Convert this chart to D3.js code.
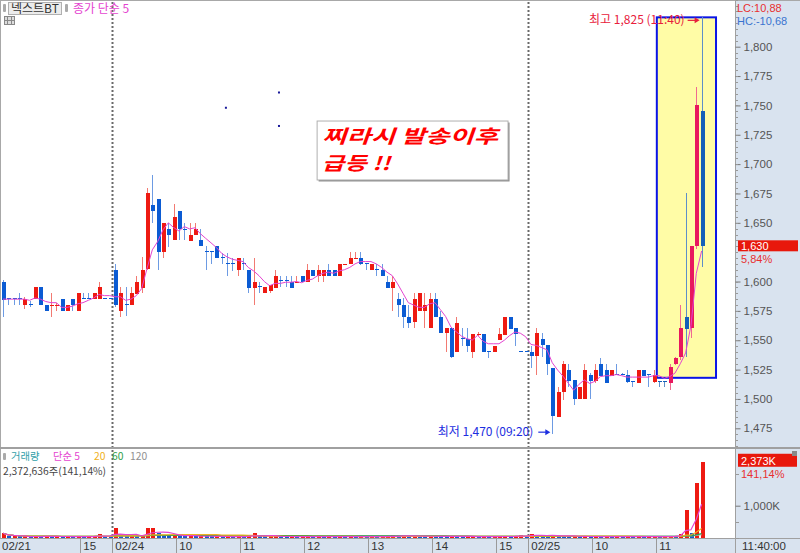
<!DOCTYPE html>
<html><head><meta charset="utf-8">
<script src="https://d3js.org/d3.v7.min.js"></script>
<style>
html,body{margin:0;padding:0;background:#fff;}
svg{display:block;}
text{font-family:"Noto Sans CJK KR","Noto Sans",sans-serif;}
text.num{font-family:"Liberation Sans","DejaVu Sans",sans-serif;}
</style></head>
<body><svg id="chart" width="800" height="553"></svg>
<script>
// ---------------- data ----------------
const sessionDays = ["02/21", "02/24", "02/25"];
const sessionStart = ["13:45", "09:00", "09:00"];
const sessionEnd = ["15:20", "15:20", "11:40"];
const sessionAuction = ["15:30", "15:30", null];

const opens = [1600,1586,1586,1586,1580,1581,1585,1595,1580,1579,1579,1585,1575,1585,1575,1586,1586,1585,1585,1586,1586,
1610,1575,1581,1580,1590,1595,1610,1665,1670,1625,1645,1635,1660,1645,1635,1640,1635,1626,1626,1630,1621,1616,1616,1610,1616,1610,1595,1596,1590,1592,
1595,1601,1601,1600,1599,1605,1600,1610,1605,1605,1610,1610,1605,1614,1615,1619,1620,1616,1610,1611,1610,1600,1595,1585,1580,1570,1565,1575,1575,1560,1585,1570,1556,1560,1540,1552,1551,1540,1554,1555,1541,1540,1550,1555,1570,1560,1541,1541,
1540,1536,1551,1546,1526,1485,1506,1525,1516,1500,1500,1520,1516,1530,1525,1520,1521,1521,1520,1515,1514,1525,1521,1514,1515,1515,1513,1530,1535,1570,1560,1630,1745];
const highs = [1601,1586,1586,1590,1587,1583,1595,1595,1580,1590,1582,1585,1580,1585,1590,1590,1590,1590,1600,1586,1586,
1615,1595,1595,1595,1605,1621,1680,1691,1670,1650,1650,1666,1660,1650,1650,1650,1645,1630,1626,1630,1624,1624,1620,1620,1620,1610,1620,1600,1595,1597,
1610,1605,1605,1605,1605,1605,1615,1610,1614,1610,1615,1610,1615,1615,1625,1625,1625,1616,1615,1615,1615,1605,1605,1590,1586,1580,1590,1590,1590,1590,1590,1575,1560,1560,1570,1560,1560,1555,1557,1555,1541,1545,1560,1570,1570,1560,1541,1541,
1545,1560,1556,1546,1526,1510,1532,1530,1516,1510,1530,1522,1530,1535,1530,1525,1530,1522,1525,1515,1525,1525,1521,1525,1515,1515,1530,1536,1580,1675,1630,1766,1825];
const lows = [1570,1580,1580,1580,1577,1578,1585,1580,1575,1570,1575,1575,1575,1575,1575,1585,1585,1585,1585,1585,1585,
1578,1570,1571,1580,1590,1590,1610,1650,1610,1620,1629,1635,1635,1635,1635,1640,1630,1610,1615,1620,1615,1605,1609,1605,1610,1590,1580,1590,1590,1590,
1595,1595,1595,1595,1599,1600,1600,1605,1600,1600,1605,1605,1605,1614,1615,1619,1614,1610,1610,1605,1605,1595,1575,1570,1560,1560,1560,1575,1560,1560,1570,1556,1540,1535,1540,1545,1540,1535,1554,1540,1535,1540,1550,1555,1560,1545,1540,1540,
1526,1520,1536,1520,1470,1485,1499,1510,1495,1500,1500,1500,1514,1520,1514,1520,1520,1520,1514,1510,1514,1520,1510,1514,1510,1510,1508,1529,1533,1536,1552,1628,1612];
const closes = [1585,1585,1585,1585,1585,1580,1595,1580,1575,1580,1580,1575,1580,1580,1590,1585,1585,1590,1595,1585,1585,
1580,1590,1580,1590,1600,1610,1675,1660,1625,1650,1640,1655,1645,1644,1640,1645,1630,1625,1625,1620,1620,1615,1615,1620,1615,1595,1600,1595,1595,1597,
1605,1600,1600,1595,1600,1600,1610,1605,1610,1610,1605,1605,1615,1615,1620,1620,1615,1615,1615,1610,1605,1595,1600,1580,1570,1565,1585,1590,1580,1585,1570,1556,1560,1535,1565,1551,1545,1555,1555,1540,1540,1545,1555,1570,1560,1555,1540,1540,
1537,1556,1546,1530,1485,1506,1530,1516,1500,1510,1525,1515,1525,1520,1514,1525,1520,1520,1514,1514,1525,1520,1520,1520,1514,1514,1527,1535,1560,1560,1630,1750,1630];
// volume in thousand shares
const volumes = [140,35,40,30,45,30,40,35,60,30,35,25,40,30,45,30,35,40,115,40,35,
290,70,45,60,55,75,290,290,140,70,45,115,60,40,50,45,55,40,35,45,30,40,30,45,30,50,140,40,35,45,
50,30,25,35,25,30,45,30,35,30,35,25,40,20,35,25,30,25,30,25,30,35,85,45,85,40,50,45,40,50,45,40,35,50,45,30,35,40,25,35,30,35,40,45,35,40,85,45,
105,95,50,45,85,60,50,40,45,35,40,30,35,30,35,25,30,25,30,25,35,25,30,30,25,35,60,50,105,865,155,1720,2373];

// 1,625 is hidden behind the last-price label in the reference
const priceTicks = [1475,1500,1525,1550,1575,1600,1650,1675,1700,1725,1750,1775,1800];
const volumeTicks = [1000];
const xTickTimes = ["02/21 13:45","02/21 15:00","02/24 09:00","02/24 10:00","02/24 11:00","02/24 12:00","02/24 13:00","02/24 14:00","02/24 15:00","02/25 09:00","02/25 10:00","02/25 11:00"];
const xTickLabels = ["02/21","15","02/24","10","11","12","13","14","15","02/25","10","11"];
const dayBreaks = ["02/24 09:00", "02/25 09:00"];
const noteDots = [{slot:42.3, price:1748}, {slot:52.25, price:1761}, {slot:52.25, price:1732.5}];
const highlightBox = {slot0:123.1, slot1:134.2, p0:1518, p1:1825};
const noteBox = {slot0:59.4, slot1:95.2, p0:1686.5, p1:1736.7};
const noteLines = ["찌라시 발송이후", "급등 !!"];
const lastPrice = 1630, lastPct = "5,84%";
const lastVolume = "2,373K", lastVolPct = "141,14%";
const volLegendItems = ["거래량", "단순 5", "20", "60", "120"];
const volInfo = "2,372,636주(141,14%)";

// ---------------- layout ----------------
const svg = d3.select("#chart");
const n = closes.length;
const step = 5.333, x0 = 0.33;
const plotR = 735, priceB = 447, volT = 448, volB = 537.7, axT = 538;

const times = [];
sessionDays.forEach((d, k) => {
  const [sh, sm] = sessionStart[k].split(":").map(Number);
  const [eh, em] = sessionEnd[k].split(":").map(Number);
  for (let m = sh * 60 + sm; m <= eh * 60 + em; m += 5)
    times.push(d + " " + String(Math.floor(m / 60)).padStart(2, "0") + ":" + String(m % 60).padStart(2, "0"));
  if (sessionAuction[k]) times.push(d + " " + sessionAuction[k]);
});
const data = times.map((t, i) => ({t, i, o: opens[i], h: highs[i], l: lows[i], c: closes[i], v: volumes[i]}));

const x = d3.scaleBand().domain(times).range([x0, x0 + n * step]);
const xs = d3.scaleLinear().domain([0, n]).range([x0, x0 + n * step]);
const cx = d => x(d.t) + x.bandwidth() / 2;
const y = d3.scaleLinear().domain([1475, 1800]).range([428.3, 46.7]);
const yv = d3.scaleLinear().domain([0, 1000]).range([volB, 505.7]);

const sma = (arr, k) => arr.map((_, i) => d3.mean(arr.slice(Math.max(0, i - k + 1), i + 1)));

// backgrounds
const axBg = "#d9e3ef";
svg.append("rect").attr("width", 800).attr("height", 553).attr("fill", "#fff");
svg.append("rect").attr("x", plotR).attr("y", 0).attr("width", 800 - plotR).attr("height", 553).attr("fill", axBg);
svg.append("rect").attr("x", 0).attr("y", axT).attr("width", 800).attr("height", 553 - axT).attr("fill", axBg);

const defs = svg.append("defs");
defs.append("clipPath").attr("id", "cp").append("rect").attr("x", 0).attr("y", 0).attr("width", plotR).attr("height", priceB);
defs.append("clipPath").attr("id", "cv").append("rect").attr("x", 0).attr("y", volT).attr("width", plotR).attr("height", volB - volT + 0.3);

// highlight box
svg.append("rect")
  .attr("x", xs(highlightBox.slot0)).attr("y", y(highlightBox.p1))
  .attr("width", xs(highlightBox.slot1) - xs(highlightBox.slot0))
  .attr("height", y(highlightBox.p0) - y(highlightBox.p1))
  .attr("fill", "#fffca6").attr("stroke", "#0a14e6").attr("stroke-width", 2);

// day dividers
svg.append("g").selectAll("line").data(dayBreaks).join("line")
  .attr("x1", d => Math.round(x(d)) + 0.5).attr("x2", d => Math.round(x(d)) + 0.5)
  .attr("y1", 2).attr("y2", axT)
  .attr("stroke", "#6a6a6a").attr("stroke-width", 2).attr("stroke-dasharray", "2,2");

// candles
const inBox = d => d.i >= 123;
const bodyCol = d => d.c >= d.o ? (inBox(d) ? "#e8185e" : "#ee1a12") : (inBox(d) ? "#1460b8" : "#0b5bd3");
const wickCol = d => d.c >= d.o ? (inBox(d) ? "#f06a90" : "#f27a72") : (inBox(d) ? "#5d8fc8" : "#6d9be3");
const gc = svg.append("g").attr("clip-path", "url(#cp)").attr("shape-rendering", "crispEdges");
gc.selectAll("line.w").data(data).join("line").attr("class", "w")
  .attr("x1", d => Math.round(cx(d)) + 0.5).attr("x2", d => Math.round(cx(d)) + 0.5)
  .attr("y1", d => y(d.h)).attr("y2", d => y(d.l))
  .attr("stroke", wickCol).attr("stroke-width", 1);
gc.selectAll("rect.b").data(data).join("rect").attr("class", "b")
  .attr("x", d => Math.round(cx(d)) - 1.5)
  .attr("width", 4)
  .attr("y", d => Math.round(y(Math.max(d.o, d.c))))
  .attr("height", d => Math.max(1, Math.round(Math.abs(y(d.o) - y(d.c)))))
  .attr("fill", bodyCol);

// MA5 on price
const ma5 = sma(closes, 5);
svg.append("path").attr("clip-path", "url(#cp)")
  .datum(data)
  .attr("d", d3.line().x(cx).y(d => y(ma5[d.i])))
  .attr("fill", "none").attr("stroke", "#e444d0").attr("stroke-width", 1);

// note dots
svg.append("g").selectAll("rect").data(noteDots).join("rect")
  .attr("x", d => xs(d.slot) - 1).attr("y", d => y(d.price) - 1)
  .attr("width", 2).attr("height", 2).attr("fill", "#1a1a9a");

// note box
const nbx = xs(noteBox.slot0), nby = y(noteBox.p1);
const nbw = xs(noteBox.slot1) - nbx, nbh = y(noteBox.p0) - nby;
svg.append("rect").attr("x", nbx + 1.5).attr("y", nby + 1.5).attr("width", nbw).attr("height", nbh).attr("fill", "#8a8a8a");
svg.append("rect").attr("x", nbx).attr("y", nby).attr("width", nbw).attr("height", nbh)
  .attr("fill", "#fff").attr("stroke", "#b0b0b0").attr("stroke-width", 1);
const noteWidths = [176, 68];
svg.append("g").selectAll("text").data(noteLines).join("text")
  .attr("x", nbx + 5).attr("y", (d, i) => nby + 22 + i * 27)
  .attr("fill", "#ff0000").attr("font-size", 18.5).attr("font-weight", "bold").attr("font-style", "italic")
  .attr("textLength", (d, i) => noteWidths[i]).attr("lengthAdjust", "spacingAndGlyphs")
  .text(d => d);

// high / low annotations
const iHigh = d3.maxIndex(highs), iLow = d3.minIndex(lows);
function arrow(g, xEnd, yy, col) {
  g.append("line").attr("x1", xEnd - 12).attr("x2", xEnd - 3).attr("y1", yy).attr("y2", yy).attr("stroke", col).attr("stroke-width", 1.2);
  g.append("path").attr("d", `M${xEnd},${yy} L${xEnd - 5},${yy - 3} L${xEnd - 5},${yy + 3} Z`).attr("fill", col);
}
const ga = svg.append("g");
const hx = cx(data[iHigh]) - 2, hy = y(highs[iHigh]) + 3;
ga.append("text").attr("x", hx - 15).attr("y", hy + 4).attr("text-anchor", "end").attr("font-size", 12).attr("fill", "#e8203c")
  .text(`최고 ${d3.format(",")(highs[iHigh])} (${data[iHigh].t.slice(6)})`);
arrow(ga, hx, hy, "#e8203c");
const lx = cx(data[iLow]) - 2, ly = y(lows[iLow]) - 2;
ga.append("text").attr("x", lx - 17).attr("y", ly + 4).attr("text-anchor", "end").attr("font-size", 12).attr("fill", "#1c2ee0")
  .text(`최저 ${d3.format(",")(lows[iLow])} (${data[iLow].t.slice(6)})`);
arrow(ga, lx, ly, "#1c2ee0");

// volume bars
const gv = svg.append("g").attr("clip-path", "url(#cv)").attr("shape-rendering", "crispEdges");
gv.selectAll("rect").data(data).join("rect")
  .attr("x", d => Math.round(cx(d)) - 1.5).attr("width", 4)
  .attr("y", d => Math.min(yv(d.v), volB - 1.5))
  .attr("height", d => Math.max(1.5, volB - yv(d.v)))
  .attr("fill", d => (d.i === 0 || d.v >= volumes[d.i - 1]) ? "#ee1a12" : "#1559cc");
const vmaDefs = [[120, "#b8b8b8"], [60, "#2f9e4a"], [20, "#f0b020"], [5, "#e444d0"]];
vmaDefs.forEach(([k, col]) => {
  const m = sma(volumes, k);
  svg.append("path").attr("clip-path", "url(#cv)").datum(data)
    .attr("d", d3.line().x(cx).y(d => Math.min(yv(m[d.i]), volB - 1)))
    .attr("fill", "none").attr("stroke", col).attr("stroke-width", 1.2);
});

// frame lines
const frame = svg.append("g").attr("shape-rendering", "crispEdges");
frame.append("line").attr("x1", 0).attr("x2", 800).attr("y1", 0.5).attr("y2", 0.5).attr("stroke", "#a8a8a8");
frame.append("line").attr("x1", 0.5).attr("x2", 0.5).attr("y1", 0).attr("y2", axT).attr("stroke", "#a8a8a8");
frame.append("line").attr("x1", 0).attr("x2", 800).attr("y1", priceB + 0.5).attr("y2", priceB + 0.5).attr("stroke", "#a0a0a0").attr("stroke-width", 2);
frame.append("line").attr("x1", 0).attr("x2", 800).attr("y1", axT + 0.5).attr("y2", axT + 0.5).attr("stroke", "#a0a0a0");
frame.append("line").attr("x1", plotR + 0.5).attr("x2", plotR + 0.5).attr("y1", 0).attr("y2", 553).attr("stroke", "#a0a0a0");

// right price axis
const ay = svg.append("g").attr("transform", `translate(${plotR + 0.5},0)`);
ay.call(d3.axisRight(y).tickValues(priceTicks).tickSize(5).tickPadding(3).tickFormat(d3.format(",")));
ay.select(".domain").remove();
ay.selectAll(".tick line").attr("stroke", "#777");
ay.selectAll(".tick text").attr("class", "num").attr("fill", "#555").attr("font-size", 11.5).attr("font-family", null);
// minor ticks
svg.append("g").attr("shape-rendering", "crispEdges").selectAll("line").data(d3.range(1460, 1841, 5)).join("line")
  .attr("x1", plotR + 1).attr("x2", plotR + 3).attr("y1", d => Math.round(y(d)) + 0.5).attr("y2", d => Math.round(y(d)) + 0.5)
  .attr("stroke", "#999");

// volume axis
const av = svg.append("g").attr("transform", `translate(${plotR + 0.5},0)`);
av.call(d3.axisRight(yv).tickValues(volumeTicks).tickSize(5).tickPadding(3).tickFormat(d => d3.format(",")(d) + "K"));
av.select(".domain").remove();
av.selectAll(".tick line").attr("stroke", "#777");
av.selectAll(".tick text").attr("class", "num").attr("fill", "#555").attr("font-size", 11.5).attr("font-family", null);
svg.append("g").selectAll("line").data([0, 500, 2000]).join("line")
  .attr("x1", plotR + 1).attr("x2", plotR + 4).attr("y1", d => Math.round(yv(d)) + 0.5).attr("y2", d => Math.round(yv(d)) + 0.5)
  .attr("stroke", "#999");

// last price label
const lpY = y(lastPrice);
svg.append("rect").attr("x", plotR + 3).attr("y", lpY - 6).attr("width", 60).attr("height", 11).attr("fill", "#e8180c");
svg.append("text").attr("class", "num").attr("x", plotR + 6).attr("y", lpY + 4).attr("font-size", 11).attr("fill", "#fff").text(d3.format(",")(lastPrice));
svg.append("text").attr("class", "num").attr("x", plotR + 6).attr("y", lpY + 16.8).attr("font-size", 11).attr("fill", "#e83030").text(lastPct);

// last volume label
const lvY = yv(volumes[n - 1]);
svg.append("rect").attr("x", plotR + 3).attr("y", lvY - 8).attr("width", 59).attr("height", 13).attr("fill", "#e8180c");
svg.append("text").attr("class", "num").attr("x", plotR + 6).attr("y", lvY + 3).attr("font-size", 11).attr("fill", "#fff").text(lastVolume);
svg.append("text").attr("class", "num").attr("x", plotR + 6).attr("y", lvY + 15.8).attr("font-size", 11).attr("fill", "#e83030").text(lastVolPct);
svg.append("rect").attr("x", 792).attr("y", 451).attr("width", 5).attr("height", 5).attr("fill", "#888");

// LC / HC
svg.append("text").attr("class", "num").attr("x", plotR + 2).attr("y", 12).attr("font-size", 11).attr("fill", "#e83030").text("LC:10,88");
svg.append("text").attr("class", "num").attr("x", plotR + 2).attr("y", 24.8).attr("font-size", 11).attr("fill", "#3a74d0").text("HC:-10,68");

// bottom time axis
const gx = svg.append("g");
gx.selectAll("line").data(xTickTimes.slice(1)).join("line")
  .attr("x1", d => Math.round(x(d)) + 0.5).attr("x2", d => Math.round(x(d)) + 0.5)
  .attr("y1", axT).attr("y2", 553).attr("stroke", "#9a9a9a").attr("shape-rendering", "crispEdges");
gx.selectAll("text").data(xTickTimes).join("text").attr("class", "num")
  .attr("x", (d, i) => i === 0 ? 2 : x(d) + 3).attr("y", 550)
  .attr("font-size", 11.5).attr("fill", "#333")
  .text((d, i) => xTickLabels[i]);
svg.append("text").attr("class", "num").attr("x", plotR + 7).attr("y", 550).attr("font-size", 11.5).attr("fill", "#333").text(times[n - 1].slice(6) + ":00");

// legends
const lg = svg.append("g");
lg.append("rect").attr("x", 3).attr("y", 4).attr("width", 3).attr("height", 8).attr("rx", 1).attr("fill", "#aaa");
lg.append("rect").attr("x", 8.5).attr("y", 2.5).attr("width", 53).attr("height", 12).attr("fill", "#ececec").attr("stroke", "#b0b0b0");
lg.append("text").attr("x", 11).attr("y", 12.5).attr("font-size", 12).attr("fill", "#333").text("넥스트BT");
lg.append("rect").attr("x", 65).attr("y", 4).attr("width", 3).attr("height", 8).attr("rx", 1).attr("fill", "#aaa");
lg.append("text").attr("x", 73).attr("y", 13).attr("font-size", 12).attr("fill", "#e444d0").text("종가 단순 5");
lg.append("rect").attr("x", 4.5).attr("y", 16.5).attr("width", 10).attr("height", 8).attr("fill", "#ddd").attr("stroke", "#888");
lg.append("path").attr("d", "M7.5,17 V24 M11.5,17 V24 M5,20.5 H14").attr("stroke", "#888");

const vl = svg.append("g");
vl.append("rect").attr("x", 3).attr("y", 453).attr("width", 3).attr("height", 7).attr("rx", 1).attr("fill", "#aaa");
const volLegendCols = ["#30a0a8", "#e444d0", "#f0b020", "#2f9e4a", "#909090"];
const volLegendX = [11, 53, 94, 112, 130];
vl.selectAll("text.it").data(volLegendItems).join("text").attr("class", "it")
  .attr("x", (d, i) => volLegendX[i]).attr("y", 460.2).attr("font-size", 10.3)
  .attr("fill", (d, i) => volLegendCols[i]).text(d => d);
vl.append("text").attr("x", 3).attr("y", 475.4).attr("font-size", 10.3).attr("fill", "#444").text(volInfo);
</script>
</body></html>
